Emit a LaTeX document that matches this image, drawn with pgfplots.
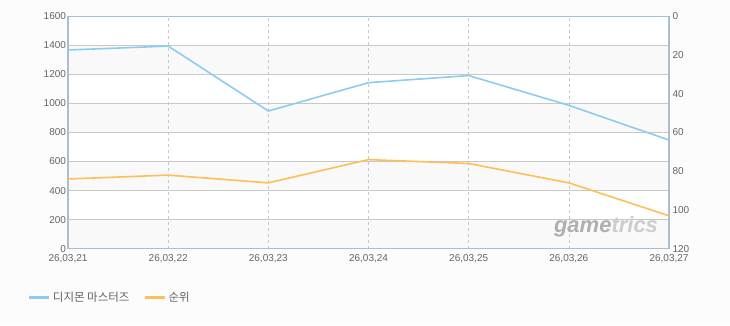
\documentclass[border=0pt]{standalone}
\usepackage{pgfplots}
\pgfplotsset{compat=1.18}
\usepackage{fontspec}
\setmainfont{Liberation Sans}
\newfontfamily\kr{Noto Sans CJK KR}
\definecolor{bg}{RGB}{252,252,252}
\definecolor{band}{RGB}{249,249,249}
\definecolor{axc}{RGB}{170,190,210}
\definecolor{gridc}{RGB}{200,200,200}
\definecolor{tickc}{RGB}{100,100,100}
\definecolor{blueL}{RGB}{140,205,238}
\definecolor{orangeL}{RGB}{255,190,90}
\begin{document}
\begin{tikzpicture}[x=1pt,y=1pt]
\fill[bg] (0,0) rectangle (730,325);
\pgfplotsset{
  every tick label/.append style={font=\fontsize{10}{12}\selectfont, text=tickc},
  geom/.style={at={(68pt,76.3pt)}, anchor=south west,
    width=601pt, height=232.4pt, scale only axis, xmin=0, xmax=6},
}
% background bands
\begin{axis}[geom, ymin=0, ymax=1600, hide axis, axis background/.style={fill=white}]
\addplot[draw=none, fill=band] coordinates {(0,0) (6,0) (6,200) (0,200)} -- cycle;
\addplot[draw=none, fill=band] coordinates {(0,400) (6,400) (6,600) (0,600)} -- cycle;
\addplot[draw=none, fill=band] coordinates {(0,800) (6,800) (6,1000) (0,1000)} -- cycle;
\addplot[draw=none, fill=band] coordinates {(0,1200) (6,1200) (6,1400) (0,1400)} -- cycle;
\end{axis}
% left axis
\begin{axis}[
  geom, ymin=0, ymax=1600,
  xtick={0,...,6},
  xticklabels={{26,03,21},{26,03,22},{26,03,23},{26,03,24},{26,03,25},{26,03,26},{26,03,27}},
  ytick={0,200,...,1600},
  xtick pos=bottom, ytick pos=left,
  axis line style={draw=axc, line width=1.2pt},
  major tick length=0pt,
  xmajorgrids, ymajorgrids,
  x grid style={gridc, dashed, line width=0.5pt},
  y grid style={gridc, line width=0.6pt},
  yticklabel style={xshift=1.5pt},
  xticklabel style={yshift=-2.5pt},
  scaled y ticks=false,
  /pgf/number format/assume math mode=true,
  /pgf/number format/1000 sep={},
  clip=false,
  legend columns=2,
  legend style={at={(-0.072,-0.212)}, anchor=west, draw=none, fill=none,
    font=\kr\fontsize{11.5}{13}\selectfont, text=tickc,
    /tikz/every even column/.append style={column sep=12pt}},
  legend image code/.code={\draw[#1, line width=3pt] (0pt,0pt) -- (20pt,0pt);},
]
\addplot[blueL, line width=1.6pt] coordinates {(0,1368) (1,1395) (2,948) (3,1143) (4,1192) (5,987) (6,748)};
\addlegendentry{디지몬 마스터즈}
\addlegendimage{orangeL, line width=1.6pt}
\addlegendentry{순위}
\node[anchor=south east, font=\bfseries\itshape\fontsize{22}{24}\selectfont, inner sep=0pt] at (rel axis cs:0.982,0.05) {\textcolor[RGB]{175,175,175}{game}\textcolor[RGB]{205,205,205}{trics}};
\end{axis}
% right axis
\begin{axis}[
  geom, ymin=0, ymax=120, y dir=reverse,
  axis x line=none, axis y line*=right,
  ytick={0,20,...,120},
  axis line style={draw=axc, line width=1.2pt},
  y axis line style={-},
  major tick length=0pt,
  yticklabel style={xshift=0pt},
  /pgf/number format/assume math mode=true,
]
\addplot[orangeL, line width=1.6pt] coordinates {(0,84) (1,82) (2,86) (3,74) (4,76) (5,86) (6,103)};
\end{axis}
\end{tikzpicture}
\end{document}
